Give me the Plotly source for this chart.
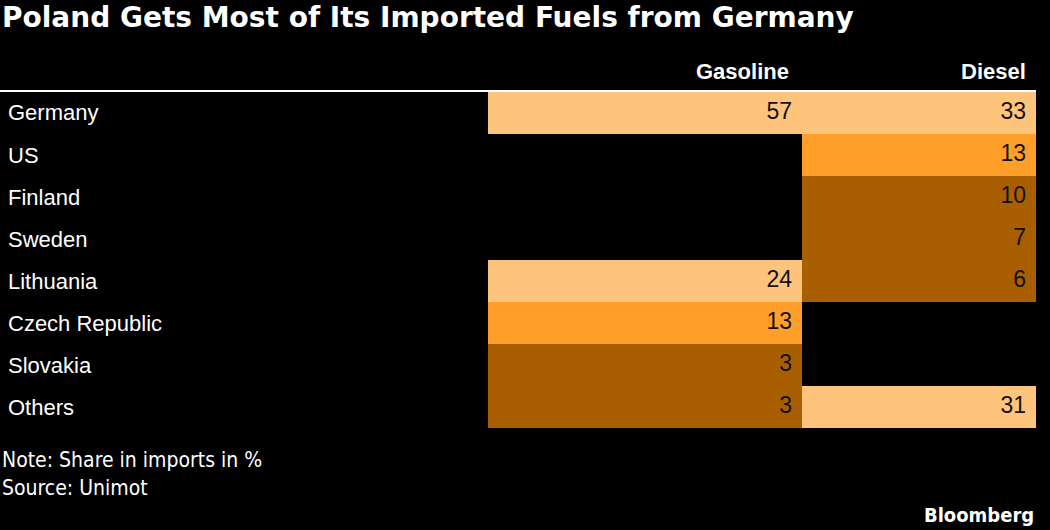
import plotly.graph_objects as go

countries = ['Germany', 'US', 'Finland', 'Sweden', 'Lithuania', 'Czech Republic', 'Slovakia', 'Others']
gasoline = [57, None, None, None, 24, 13, 3, 3]
diesel = [33, 13, 10, 7, 6, None, None, 31]
columns = ['Gasoline', 'Diesel']

W, H = 1050, 530
# column edges in data units (pixel widths of the two columns)
x_edges = [0, 314, 548]

def py(p):
    return 1 - p / H

z = [[g, d] for g, d in zip(gasoline, diesel)]

dark, mid, light = '#A95F00', '#FF9F29', '#FFC47C'
cscale = [[0, dark], [0.2, dark], [0.2, mid], [0.34, mid], [0.34, light], [1, light]]

fig = go.Figure()
fig.add_trace(go.Heatmap(
    z=z, x=x_edges, y=countries, zmin=0, zmax=60,
    colorscale=cscale, showscale=False, hoverinfo='skip', xgap=0, ygap=0,
))

# value labels, right aligned inside each cell
for ci, vals in enumerate([gasoline, diesel]):
    xs, ys, ts = [], [], []
    for c, v in zip(countries, vals):
        if v is not None:
            xs.append(x_edges[ci + 1] - 10)
            ys.append(c)
            ts.append(str(v))
    fig.add_trace(go.Scatter(
        x=xs, y=ys, text=ts, mode='text', textposition='middle left',
        textfont=dict(family='Liberation Sans', size=23, color='#111111'),
        hoverinfo='skip', showlegend=False,
    ))

fig.update_xaxes(range=[0, 548], domain=[488 / W, 1036 / W], visible=False, fixedrange=True)
fig.update_yaxes(range=[7.5, -0.5], domain=[py(428), py(92)], visible=False, fixedrange=True)

ann = []
for c in countries:
    ann.append(dict(x=6 / W, xref='paper', xanchor='left', y=c, yref='y', yanchor='middle',
                    text=c, showarrow=False,
                    font=dict(family='Liberation Sans', size=22, color='white')))

# column headers
hdr_right = [791, 1028]
for name, xr in zip(columns, hdr_right):
    ann.append(dict(x=xr / W, xref='paper', xanchor='right', y=py(72), yref='paper', yanchor='middle',
                    text='<b>' + name + '</b>', showarrow=False,
                    font=dict(family='Liberation Sans', size=22, color='white')))

ann.append(dict(x=0, xref='paper', xanchor='left', y=py(18), yref='paper', yanchor='middle',
                text='<b>Poland Gets Most of Its Imported Fuels from Germany</b>', showarrow=False,
                font=dict(family='DejaVu Sans', size=28, color='white')))
ann.append(dict(x=0, xref='paper', xanchor='left', y=py(460), yref='paper', yanchor='middle',
                text='Note: Share in imports in %', showarrow=False,
                font=dict(family='DejaVu Sans Condensed', size=21, color='white')))
ann.append(dict(x=0, xref='paper', xanchor='left', y=py(488), yref='paper', yanchor='middle',
                text='Source: Unimot', showarrow=False,
                font=dict(family='DejaVu Sans Condensed', size=21, color='white')))
ann.append(dict(x=1036 / W, xref='paper', xanchor='right', y=py(515), yref='paper', yanchor='middle',
                text='<b>Bloomberg</b>', showarrow=False,
                font=dict(family='DejaVu Sans Condensed', size=20, color='white')))

fig.update_layout(
    width=W, height=H,
    margin=dict(l=0, r=0, t=0, b=0),
    paper_bgcolor='black', plot_bgcolor='black',
    showlegend=False,
    annotations=ann,
    shapes=[dict(type='line', xref='paper', yref='paper', x0=0, x1=1036 / W, y0=py(91), y1=py(91),
                 line=dict(color='white', width=2))],
)

fig.write_html('out.html', config={'displayModeBar': False},
               post_script="document.body.style.margin='0';")
